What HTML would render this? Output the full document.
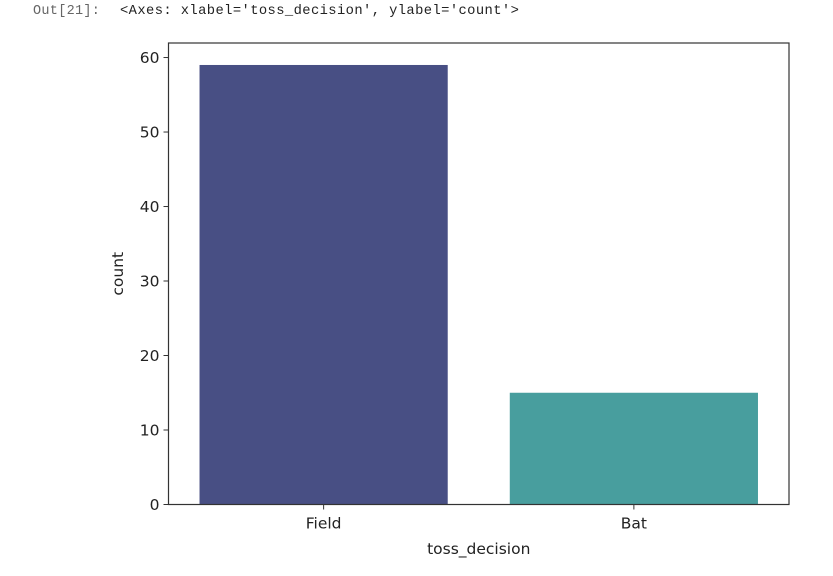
<!DOCTYPE html>
<html><head><meta charset="utf-8"><style>
body{margin:0;background:#fff;width:833px;height:576px;overflow:hidden;font-family:"DejaVu Sans","Liberation Sans",sans-serif}
.out{position:absolute;top:4px;left:33px;font-family:"Liberation Mono","DejaVu Sans Mono",monospace;font-size:13.5px;color:#666;letter-spacing:0.3px}
.repr{position:absolute;top:4px;left:120px;font-family:"Liberation Mono","DejaVu Sans Mono",monospace;font-size:13.8px;color:#222;letter-spacing:0.4px}
</style></head><body>
<div class="out">Out[21]:</div>
<div class="repr">&lt;Axes: xlabel='toss_decision', ylabel='count'&gt;</div>
<svg id="chart" width="833" height="576" style="position:absolute;left:0;top:0"></svg>
<script>
const categories=["Field","Bat"];
const counts=[59,15];
const colors=["#484f84","#489e9e"];
const yTicks=[0,10,20,30,40,50,60];
const L=168.5,R=789,T=43,B=504.5,ymax=61.95;
const NS="http://www.w3.org/2000/svg";
const svg=document.getElementById('chart');
function y(v){return B-(v/ymax)*(B-T);}
const bw=(R-L)/categories.length;
function x(i){return L+bw*(i+0.5);}
function mk(t,a,txt){const e=document.createElementNS(NS,t);for(const k in a)e.setAttribute(k,a[k]);if(txt!==undefined)e.textContent=txt;svg.appendChild(e);return e;}
counts.forEach((v,i)=>{
 const r=mk('rect',{x:x(i)-bw*0.4,y:y(v),width:bw*0.8,height:B-y(v),fill:colors[i]});
 
 
});
yTicks.forEach(t=>{
 const l=mk('line',{x1:L-5,x2:L,y1:y(t),y2:y(t),stroke:'#333','stroke-width':1});
 
 
 const tx=mk('text',{x:L-9,y:y(t)+5.5,'text-anchor':'end','font-size':15.5,fill:'#222'},t);
 
 
});
categories.forEach((c,i)=>{
 const l=mk('line',{x1:x(i),x2:x(i),y1:B,y2:B+5,stroke:'#333','stroke-width':1});
 
 
 const tx=mk('text',{x:x(i),y:B+24,'text-anchor':'middle','font-size':15.5,fill:'#222'},c);
 
 
});
const f=mk('rect',{x:L,y:T,width:R-L,height:B-T,fill:'none',stroke:'#333','stroke-width':1.2});


const xt=mk('text',{x:(L+R)/2,y:554,'text-anchor':'middle','font-size':15.5,fill:'#222'},'toss_decision');


const yt=mk('text',{x:0,y:0,transform:'translate(123,'+((T+B)/2)+') rotate(-90)','text-anchor':'middle','font-size':15.5,fill:'#222'},'count');


</script>
</body></html>
